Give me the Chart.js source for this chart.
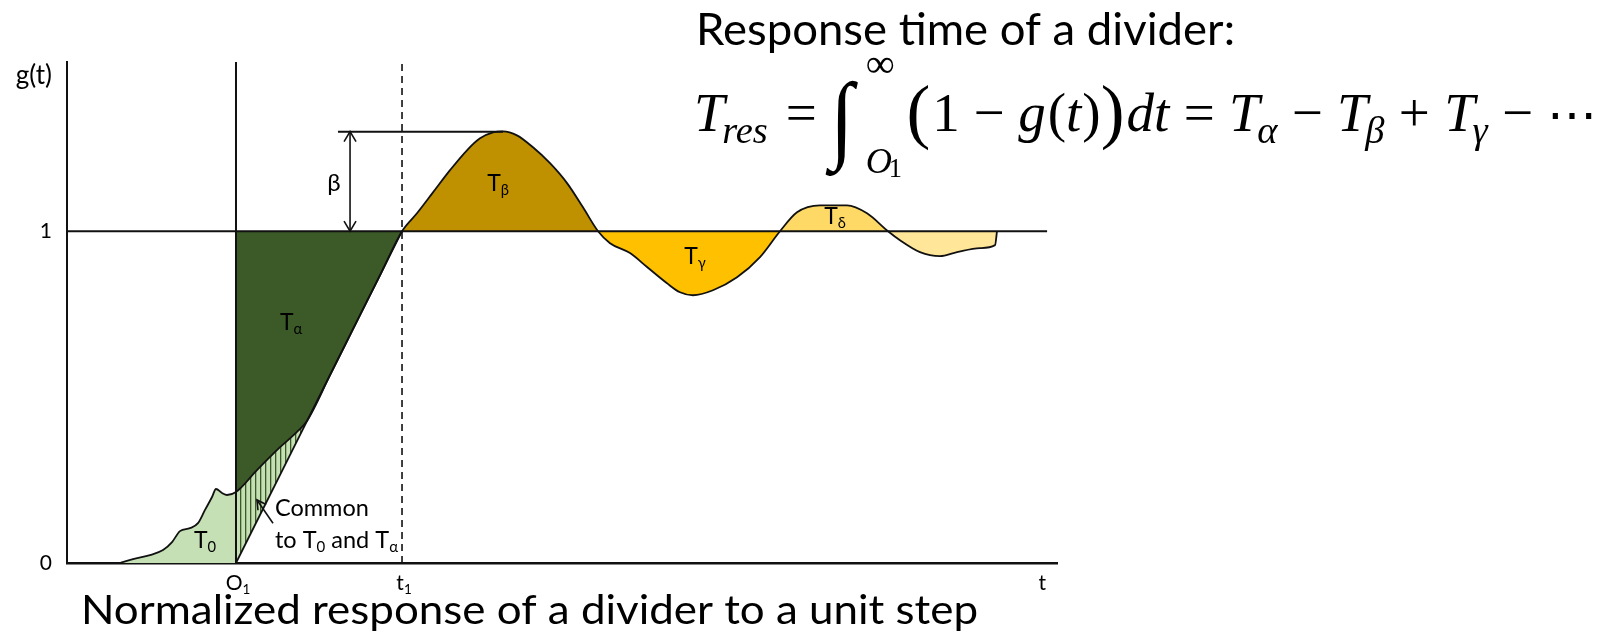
<!DOCTYPE html>
<html lang="en">
<head>
<meta charset="UTF-8">
<title>Normalized response of a divider to a unit step</title>
<script src="https://cdn.jsdelivr.net/npm/chart.js"></script>
<style>
  html, body { margin: 0; padding: 0; background: #fff; }
  #wrap { width: 1597px; height: 644px; position: relative; }
</style>
</head>
<body>
<div id="wrap"><canvas id="stepChart"></canvas></div>
<script>
// time in arbitrary units, g(t) normalised so that the settled value is 1
const T_MAX = 10;
const G_MAX = 1.51;
const O1 = 1.707;          // steepest tangent crosses zero here
const T1 = 3.384;          // ... and reaches 1 here
const TANGENT_PT = 2.424;  // where g(t) joins the tangent
const PEAK_T = 4.404;
const PEAK_G = 1.30;
const BETA_T = 2.859;      // position of the overshoot arrow
const BETA_LINE_FROM = 2.737;
const ONE_LINE_TO = 9.9;

// sampled step response
const curveT = [0.535, 0.667, 0.838, 0.970, 1.061, 1.141, 1.242, 1.323, 1.394, 1.465, 1.505, 1.566, 1.616, 1.707,
  1.919, 2.152, 2.323, 2.424, 2.657, 2.909, 3.162, 3.384,
  3.535, 3.697, 3.869, 4.040, 4.172, 4.303, 4.404, 4.545, 4.707, 4.879, 5.051, 5.212, 5.364,
  5.485, 5.687, 5.859, 6.061, 6.192, 6.323, 6.525, 6.768, 7.000, 7.202,
  7.374, 7.606, 7.879, 8.081, 8.293,
  8.414, 8.616, 8.818, 8.990, 9.222, 9.374, 9.394];
const curveG = [0, 0.012, 0.024, 0.039, 0.063, 0.096, 0.105, 0.120, 0.160, 0.199, 0.223, 0.211, 0.205, 0.214,
  0.280, 0.349, 0.395, 0.428, 0.566, 0.717, 0.867, 1.0,
  1.054, 1.117, 1.184, 1.244, 1.280, 1.298, 1.301, 1.289, 1.253, 1.205, 1.145, 1.072, 1.0,
  0.964, 0.934, 0.892, 0.843, 0.816, 0.807, 0.822, 0.861, 0.922, 1.0,
  1.057, 1.078, 1.078, 1.054, 1.0,
  0.973, 0.937, 0.925, 0.937, 0.949, 0.958, 1.0];

// shaded areas: t-range of the curve, level they fill to, colour
const regionFrom = [0.535, O1, T1, 5.364, 7.202, 8.293];
const regionTo = [O1, T1, 5.364, 7.202, 8.293, 9.394];
const regionBase = [0, 1, 1, 1, 1, 1];
const regionColors = ['#c5e0b4', '#3b5a27', '#bf9000', '#ffc000', '#ffd966', '#ffe699'];

// area labels (T with a subscript)
const labelSub = ['0', 'α', 'β', 'γ', 'δ'];
const labelT = [1.394, 2.263, 4.354, 6.343, 7.758];
const labelG = [0.069, 0.726, 1.145, 0.925, 1.045];

// axis ticks
const xTickValues = [O1, T1, 9.83];
const xTickMain = ['O', 't', 't'];
const xTickSub = ['1', '1', ''];
const yTickValues = [0, 1, 1.47];
const yTickLabels = ['0', '1', 'g(t)'];

const titleText = 'Response time of a divider:';
const captionText = 'Normalized response of a divider to a unit step';

const SANS = 'Lato, "Open Sans", sans-serif';
const SERIF = '"Liberation Serif", "DejaVu Serif", serif';

function pts(ts, gs) {
  return ts.map((t, i) => ({ x: t, y: gs[i] }));
}
function curveBetween(a, b) {
  const out = [];
  curveT.forEach((t, i) => { if (t >= a - 1e-9 && t <= b + 1e-9) out.push({ x: t, y: curveG[i] }); });
  return out;
}

const canvas = document.getElementById('stepChart');
const ctx0 = canvas.getContext('2d');

// light green with thin dark vertical stripes
function stripes() {
  const c = document.createElement('canvas');
  c.width = 5; c.height = 5;
  const p = c.getContext('2d');
  p.fillStyle = '#c5e0b4';
  p.fillRect(0, 0, 5, 5);
  p.fillStyle = '#3b5a27';
  p.fillRect(0, 0, 1.3, 5);
  return ctx0.createPattern(c, 'repeat');
}

const lineBase = { pointRadius: 0, fill: false, borderColor: '#111', borderWidth: 2 };
const smooth = { cubicInterpolationMode: 'monotone' };

const datasets = [
  Object.assign({ data: pts(curveT, curveG) }, lineBase, smooth, { borderWidth: 1.8 }),
  Object.assign({ data: pts([O1, T1], [0, 1]) }, lineBase, { borderWidth: 1.8 }),
  Object.assign({ data: pts([0, ONE_LINE_TO], [1, 1]) }, lineBase),
  Object.assign({ data: pts([O1, O1], [0, G_MAX]) }, lineBase),
  Object.assign({ data: pts([T1, T1], [0, G_MAX]) }, lineBase, { borderWidth: 1.6, borderDash: [7, 5] }),
  Object.assign({ data: pts([BETA_LINE_FROM, PEAK_T], [PEAK_G, PEAK_G]) }, lineBase),
  Object.assign({ data: pts([BETA_T, BETA_T], [1, PEAK_G]) }, lineBase, { borderWidth: 1.6 })
];
const TANGENT_INDEX = 1;

regionFrom.forEach((a, i) => {
  datasets.push(Object.assign({
    data: curveBetween(a, regionTo[i]),
    pointRadius: 0,
    borderWidth: 0,
    backgroundColor: regionColors[i],
    fill: regionBase[i] === 0 ? 'origin' : { value: regionBase[i] }
  }, smooth));
});
// part shared by T0 and Talpha, between g(t) and the tangent
datasets.push(Object.assign({
  data: curveBetween(O1, TANGENT_PT),
  pointRadius: 0,
  borderWidth: 0,
  backgroundColor: stripes(),
  fill: TANGENT_INDEX
}, smooth));

function px(chart, t) { return chart.scales.x.getPixelForValue(t); }
function py(chart, g) { return chart.scales.y.getPixelForValue(g); }

// Lato is a little taller than the intended face: draw at the wanted
// cap height and stretch sideways to the wanted width
function stretchText(ctx, text, x, y, size, width) {
  ctx.font = size + 'px ' + SANS;
  const w = ctx.measureText(text).width;
  ctx.save();
  ctx.translate(x, y);
  ctx.scale(width / w, 1);
  ctx.fillText(text, 0, 0);
  ctx.restore();
}

// text made of runs, some of them lowered as subscripts
function drawRuns(ctx, runs, x, y, size, align) {
  const sub = size * 0.64;
  let total = 0;
  runs.forEach(r => {
    ctx.font = (r[1] ? sub : size) + 'px ' + SANS;
    total += ctx.measureText(r[0]).width;
  });
  let cx = align === 'center' ? x - total / 2 : x;
  ctx.textBaseline = 'middle';
  ctx.textAlign = 'left';
  runs.forEach(r => {
    ctx.font = (r[1] ? sub : size) + 'px ' + SANS;
    ctx.fillText(r[0], cx, r[1] ? y + size * 0.3 : y);
    cx += ctx.measureText(r[0]).width;
  });
}

function openHead(ctx, x, y, dx, dy, len, half) {
  const n = Math.hypot(dx, dy);
  const ux = dx / n, uy = dy / n;
  ctx.beginPath();
  ctx.moveTo(x - ux * len - uy * half, y - uy * len + ux * half);
  ctx.lineTo(x, y);
  ctx.lineTo(x - ux * len + uy * half, y - uy * len - ux * half);
  ctx.stroke();
}

function drawEquation(ctx) {
  const S = 55;
  const k = S / 46;
  const base = 131;
  let x = 694;
  const it = s => 'italic ' + s + 'px ' + SERIF;
  const rm = s => s + 'px ' + SERIF;
  ctx.textAlign = 'left';
  ctx.textBaseline = 'alphabetic';
  function put(txt, font, dy, gap) {
    ctx.font = font;
    ctx.fillText(txt, x, base + (dy || 0));
    x += ctx.measureText(txt).width + (gap || 0);
  }
  put('T', it(S), 0, -2 * k);
  put('res', it(S * 0.7), 12, 15 * k);
  put('=', rm(S), 0, 11 * k);
  // integral with its limits
  const ix = x;
  ctx.save();
  ctx.font = rm(S * 1.55);
  ctx.translate(ix, base + 19);
  ctx.scale(1, 1.14);
  ctx.fillText('∫', 0, 0);
  ctx.restore();
  ctx.font = rm(S * 0.74);
  ctx.fillText('∞', ix + 30 * k, base - 54);
  ctx.font = it(S * 0.66);
  ctx.fillText('O', ix + 30 * k, base + 42);
  ctx.font = rm(S * 0.48);
  ctx.fillText('1', ix + 30 * k + 23, base + 46);
  x = ix + 64 * k;
  put('(', rm(S * 1.3), 4, 2);
  put('1 − ', rm(S));
  put('g', it(S), 0, 2);
  put('(', rm(S));
  put('t', it(S), 0, 1);
  put(')', rm(S));
  put(')', rm(S * 1.3), 4, 2);
  put('dt', it(S), 0, 12 * k);
  put('=', rm(S), 0, 12 * k);
  put('T', it(S), 0, -2 * k);
  put('α', it(S * 0.7), 12, 12 * k);
  put('−', rm(S), 0, 12 * k);
  put('T', it(S), 0, -2 * k);
  put('β', it(S * 0.7), 12, 12 * k);
  put('+', rm(S), 0, 12 * k);
  put('T', it(S), 0, -2 * k);
  put('γ', it(S * 0.7), 12, 12 * k);
  put('−', rm(S), 0, 12 * k);
  put('⋯', rm(S * 0.9));
}

const annotations = {
  id: 'annotations',
  afterDatasetsDraw(chart) {
    const ctx = chart.ctx;
    ctx.save();
    ctx.fillStyle = '#000';
    ctx.strokeStyle = '#111';
    ctx.lineWidth = 1.6;

    // overshoot arrow
    const bx = px(chart, BETA_T);
    openHead(ctx, bx, py(chart, PEAK_G), 0, -1, 10, 6);
    openHead(ctx, bx, py(chart, 1), 0, 1, 10, 6);
    ctx.font = '24px ' + SANS;
    ctx.textAlign = 'center';
    ctx.textBaseline = 'middle';
    ctx.fillText('β', px(chart, 2.697), py(chart, 1.145));

    // area labels
    labelSub.forEach((s, i) => {
      drawRuns(ctx, [['T', false], [s, true]], px(chart, labelT[i]), py(chart, labelG[i]), 23, 'center');
    });

    // note on the striped area
    const nx = px(chart, 2.101);
    drawRuns(ctx, [['Common', false]], nx, py(chart, 0.166), 23.5, 'left');
    drawRuns(ctx, [['to T', false], ['0', true], [' and T', false], ['α', true]], nx, py(chart, 0.069), 23.5, 'left');
    const ax0 = px(chart, 2.081), ay0 = py(chart, 0.120);
    const ax1 = px(chart, 1.919), ay1 = py(chart, 0.190);
    ctx.beginPath();
    ctx.moveTo(ax0, ay0);
    ctx.lineTo(ax1, ay1);
    ctx.stroke();
    openHead(ctx, ax1, ay1, ax1 - ax0, ay1 - ay0, 9, 5);

    // time-axis labels with subscripts
    const xs = chart.scales.x;
    xs.ticks.forEach((tk, i) => {
      drawRuns(ctx, [[xTickMain[i], false], [xTickSub[i], true]], xs.getPixelForValue(tk.value) + 2, xs.top + 20, 21, 'center');
    });
    ctx.restore();
  },
  afterDraw(chart) {
    const ctx = chart.ctx;
    ctx.save();
    ctx.fillStyle = '#000';
    ctx.textAlign = 'left';
    ctx.textBaseline = 'alphabetic';
    stretchText(ctx, titleText, 696, 45, 43.8, 539);
    stretchText(ctx, captionText, 81, 624, 41.5, 897);
    drawEquation(ctx);
    ctx.restore();
  }
};

new Chart(canvas, {
  type: 'line',
  data: { datasets: datasets },
  options: {
    responsive: true,
    maintainAspectRatio: false,
    animation: false,
    events: [],
    layout: { padding: { top: 62, right: 540, left: 0, bottom: 0 } },
    plugins: {
      legend: { display: false },
      tooltip: { enabled: false },
      filler: { drawTime: 'beforeDatasetsDraw' }
    },
    scales: {
      x: {
        type: 'linear',
        min: 0,
        max: T_MAX,
        grid: { display: false, drawTicks: false },
        border: { display: true, color: '#111', width: 2.5 },
        afterBuildTicks: s => { s.ticks = xTickValues.map(v => ({ value: v })); },
        afterFit: s => { s.height = 81; },
        ticks: { display: false, autoSkip: false }
      },
      y: {
        type: 'linear',
        min: 0,
        max: G_MAX,
        grid: { display: false, drawTicks: false },
        border: { display: true, color: '#111', width: 2 },
        afterBuildTicks: s => { s.ticks = yTickValues.map(v => ({ value: v })); },
        afterFit: s => { s.width = 67; },
        ticks: {
          autoSkip: false,
          padding: 15,
          color: '#000',
          font: c => ({ family: SANS, size: c.index === 2 ? 26 : 21 }),
          callback: (v, i) => yTickLabels[i]
        }
      }
    }
  },
  plugins: [annotations]
});
</script>
</body>
</html>
